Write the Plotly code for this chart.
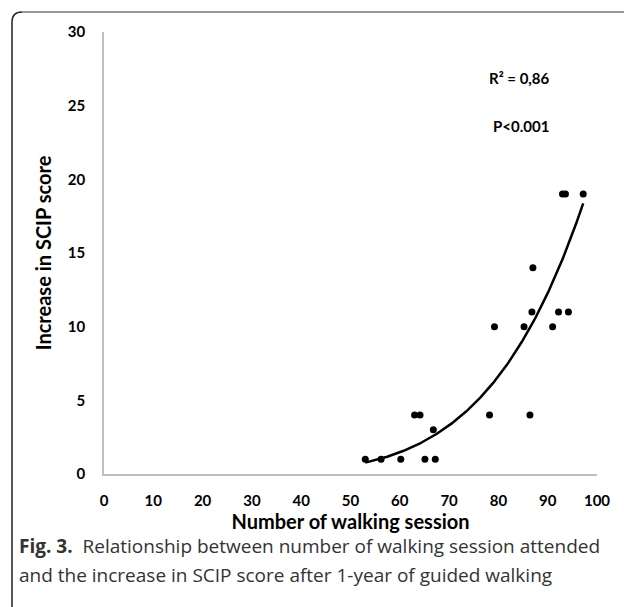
import numpy as np
import plotly.graph_objects as go

# ---- data ----
sessions = [53.0, 56.2, 60.2, 65.1, 67.2, 63.0, 64.1, 66.8, 78.2, 86.4,
            79.2, 85.2, 91.0, 86.8, 92.2, 94.2, 87.0, 93.0, 93.6, 97.2]
scip_increase = [1, 1, 1, 1, 1, 4, 4, 3, 4, 4,
                 10, 10, 10, 11, 11, 11, 14, 19, 19, 19]
x_ticks = [0, 10, 20, 30, 40, 50, 60, 70, 80, 90, 100]
y_ticks = [0, 5, 10, 15, 20, 25, 30]
r2_text = "R² = 0,86"
p_text = "P<0.001"

# power trendline as drawn in the reference (y = y0 * (x / x0) ** power)
trend_x0 = 53.0
trend_y0 = 0.77
trend_power = 5.23

xs = np.array(sessions)
x_fit = np.linspace(xs.min(), xs.max(), 200)
y_fit = trend_y0 * (x_fit / trend_x0) ** trend_power

# ---- geometry (pixels) ----
W, H = 624, 607
L, R, T, B = 104, 597, 32, 474
pw, ph = R - L, B - T


def px(x):
    return (x - L) / pw


def py(y):
    return (B - y) / ph


fig = go.Figure()
fig.add_trace(go.Scatter(
    x=x_fit, y=y_fit, mode="lines",
    line=dict(color="black", width=2.5), hoverinfo="skip", showlegend=False))
fig.add_trace(go.Scatter(
    x=sessions, y=scip_increase, mode="markers",
    marker=dict(color="black", size=7), showlegend=False))

tick_font = dict(family="Lato", size=15, color="black")
title_font = dict(family="Lato", size=20, color="black")
fig.update_layout(
    width=W, height=H,
    margin=dict(l=L, r=W - R, t=T, b=H - B),
    paper_bgcolor="white", plot_bgcolor="white",
    showlegend=False,
    xaxis=dict(
        range=[0, 100], tickvals=x_ticks, ticktext=[f"<b>{v}</b>" for v in x_ticks],
        showgrid=False, zeroline=False, showline=True, linecolor="#bfbfbf", linewidth=1.5,
        ticks="", tickfont=tick_font, ticklabelstandoff=12,
        title=dict(text="<b>Number of walking session</b>", font=title_font, standoff=4),
    ),
    yaxis=dict(
        range=[0, 30], tickvals=y_ticks, ticktext=[f"<b>{v}</b>" for v in y_ticks],
        showgrid=False, zeroline=False, showline=True, linecolor="#bfbfbf", linewidth=1.5,
        ticks="", tickfont=tick_font, ticklabelstandoff=14,
        title=dict(text="<b>Increase in SCIP score</b>", font=title_font, standoff=11),
    ),
)

fig.add_annotation(x=84.2, y=26.9, xref="x", yref="y", text=f"<b>{r2_text}</b>",
                   showarrow=False, font=dict(family="Lato", size=15, color="black"))
fig.add_annotation(x=84.6, y=23.6, xref="x", yref="y", text=f"<b>{p_text}</b>",
                   showarrow=False, font=dict(family="Lato", size=15, color="black"))

cap_font = dict(family="Open Sans", size=19, color="#333333")
fig.add_annotation(x=px(17), y=py(546), xref="paper", yref="paper", xanchor="left",
                   yanchor="middle", showarrow=False, font=cap_font,
                   text="<b>Fig. 3.</b>&nbsp;&nbsp;Relationship between number of walking session attended")
fig.add_annotation(x=px(17), y=py(575), xref="paper", yref="paper", xanchor="left",
                   yanchor="middle", showarrow=False, font=cap_font,
                   text="and the increase in SCIP score after 1-year of guided walking")

# rounded frame around the figure
x0, y0, rr = 12, 12, 10
left_path = (f"M {px(x0)},{py(630)} L {px(x0)},{py(y0 + rr)} "
             f"Q {px(x0)},{py(y0)} {px(x0 + rr)},{py(y0)}")
top_path = f"M {px(x0 + rr)},{py(y0)} L {px(650)},{py(y0)}"
fig.add_shape(type="path", path=left_path, xref="paper", yref="paper",
              line=dict(color="#222222", width=1.5))
fig.add_shape(type="path", path=top_path, xref="paper", yref="paper",
              line=dict(color="#777777", width=1.5))

fig.write_html("out.html")
